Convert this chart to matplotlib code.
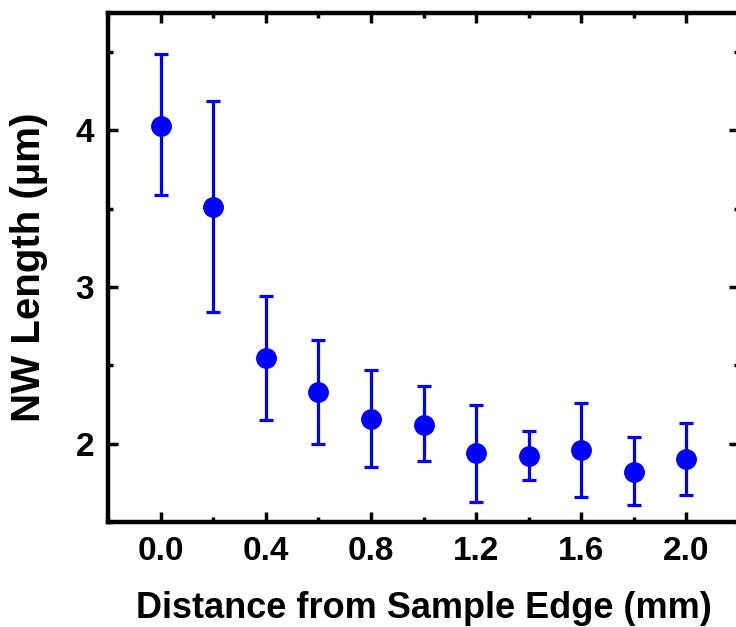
import numpy as np
import matplotlib.pyplot as plt
from matplotlib.ticker import MultipleLocator

# distance from sample edge (mm) and nanowire length (um)
distance = [0.0, 0.2, 0.4, 0.6, 0.8, 1.0, 1.2, 1.4, 1.6, 1.8, 2.0]
length = [4.03, 3.51, 2.55, 2.33, 2.16, 2.12, 1.94, 1.92, 1.96, 1.82, 1.90]
err_top = [4.49, 4.19, 2.94, 2.66, 2.47, 2.37, 2.25, 2.08, 2.26, 2.04, 2.13]
err_bot = [3.585, 2.84, 2.15, 2.00, 1.85, 1.89, 1.63, 1.77, 1.66, 1.61, 1.67]

xtick_pos = [0.0, 0.4, 0.8, 1.2, 1.6, 2.0]
xtick_lab = ['0.0', '0.4', '0.8', '1.2', '1.6', '2.0']

length = np.array(length)
yerr = [length - np.array(err_bot), np.array(err_top) - length]

plt.rcParams['font.family'] = ['Liberation Sans', 'DejaVu Sans']
plt.rcParams['font.weight'] = 'bold'

fig = plt.figure(figsize=(7.36, 6.27), dpi=100)
ax = fig.add_axes([108/736, 105/627, 631/736, 509/627])

ax.errorbar(distance, length, yerr=yerr, fmt='o', color='#0000FF',
            ms=14, elinewidth=2.3, capsize=5, capthick=2.3)

ax.set_xlim(-0.2, 2.2)
ax.set_ylim(1.5, 4.75)
ax.xaxis.set_minor_locator(MultipleLocator(0.2))
ax.yaxis.set_major_locator(MultipleLocator(1))
ax.yaxis.set_minor_locator(MultipleLocator(0.5))
ax.set_xticks(xtick_pos)
ax.set_xticklabels(xtick_lab)

for s in ax.spines.values():
    s.set_linewidth(3.2)
ax.tick_params(which='both', direction='in', top=True, right=True, width=2.5)
ax.tick_params(which='major', length=7, labelsize=24, pad=10)
ax.tick_params(which='minor', length=3.5)

ax.set_xlabel('Distance from Sample Edge (mm)', fontsize=26, fontweight='bold', labelpad=17)
ax.set_ylabel('NW Length (\u00b5m)', fontsize=29, fontweight='bold', labelpad=20)

fig.savefig('out.png', dpi=100)
